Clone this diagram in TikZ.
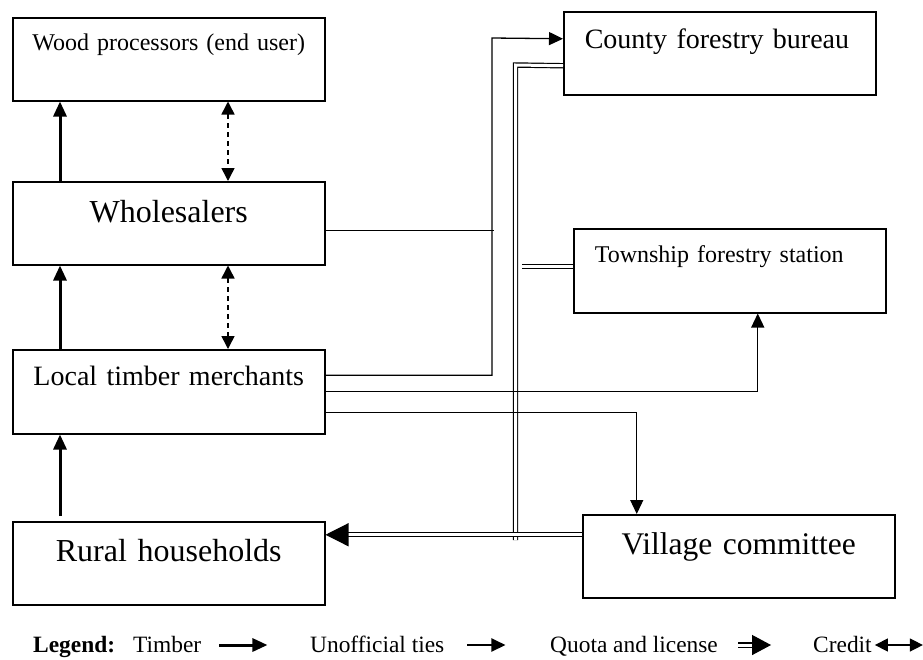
\documentclass[tikz,border=0pt]{standalone}
\usepackage{fontspec}
\setmainfont{Liberation Serif}
\usetikzlibrary{arrows.meta}

\begin{document}
\begin{tikzpicture}[x=1pt,y=-1pt,
  box/.style={draw,line width=1.5pt,inner xsep=0pt,inner ysep=0pt,text width=312pt,align=center,anchor=north west},
  boxl/.style={box,inner xsep=21pt,text width=270pt,align=left},
  tie/.style={line width=1.3pt},
  tip/.style={-{Triangle[length=14pt,width=13pt]}},
  timber/.style={line width=3pt,-{Triangle[length=15pt,width=13pt]}},
  unoff/.style={line width=1.5pt,dash pattern=on 5pt off 4pt,{Triangle[length=13pt,width=13pt]}-{Triangle[length=13pt,width=13pt]}},
  quota/.style={line width=1.2pt,double,double distance=3pt},
  ltext/.style={inner sep=0pt,text height=14pt,text depth=0pt,anchor=base west,font=\fontsize{23.4}{26}\selectfont}]
\useasboundingbox (0,0) rectangle (923,659);
\node[box,font=\fontsize{24}{28}\selectfont,text height=33pt,text depth=50pt] (wood) at (12,17) {Wood processors (end user)};
\node[box,font=\fontsize{32}{36}\selectfont,text height=41pt,text depth=42pt] (whole) at (12,181) {Wholesalers};
\node[box,font=\fontsize{28}{32}\selectfont,text height=36pt,text depth=48pt] (merch) at (12,349) {Local timber merchants};
\node[box,font=\fontsize{32}{36}\selectfont,text height=40pt,text depth=43pt] (rural) at (12,521) {Rural households};
\node[boxl,font=\fontsize{28}{32}\selectfont,text height=37pt,text depth=46pt] (county) at (563,11) {County forestry bureau};
\node[boxl,font=\fontsize{24}{28}\selectfont,text height=34pt,text depth=50pt] (town) at (573,228) {Township forestry station};
\node[box,font=\fontsize{31.5}{36}\selectfont,text height=40pt,text depth=43pt] (village) at (582,514) {Village committee};
\coordinate (jc) at (492,38);
\coordinate (qtop) at (515.5,65);
\coordinate (qbot) at (515.5,540);
\draw[quota] ([yshift=-12.5pt]county.west) -- (qtop) -- (qbot);
\draw[quota] ([yshift=4pt]town.west) -- ++(-51,0);
\draw[quota,-{Triangle[length=23pt,width=23pt]}] ([yshift=21.5pt]village.west) -- ([yshift=28.5pt]rural.east);
\draw[tie] ([yshift=-7.5pt]whole.east) -- ++(168,0);
\draw[tie,tip] ([yshift=16.5pt]merch.east) -| (jc) -- ([yshift=14.5pt]county.west);
\draw[tie,tip] (merch.east) -| ([xshift=28pt]town.south);
\draw[tie,tip] ([yshift=-21pt]merch.east) -| ([xshift=-102pt]village.north);
\draw[timber] ([xshift=48pt]whole.north west) -- ([xshift=48pt]wood.south west);
\draw[timber] ([xshift=48pt]merch.north west) -- ([xshift=48pt]whole.south west);
\draw[timber] ([xshift=48pt,yshift=5pt]rural.north west) -- ([xshift=48pt]merch.south west);
\draw[unoff] ([xshift=216pt]wood.south west) -- ([xshift=216pt]whole.north west);
\draw[unoff] ([xshift=216pt]whole.south west) -- ([xshift=216pt]merch.north west);
\node[ltext,font=\fontsize{23.4}{26}\selectfont\bfseries] (legend) at (33,652) {Legend:};
\node[ltext] (ltimber) at (133,652) {Timber};
\node[ltext] (lties) at (310,652) {Unofficial ties};
\node[ltext] (lquota) at (550,652) {Quota and license};
\node[ltext] (lcredit) at (813,652) {Credit};
\draw[timber] ([xshift=18pt]ltimber.east) -- ++(48,0);
\draw[line width=2pt,tip] ([xshift=23pt]lties.east) -- ++(38,0);
\draw[quota,-{Triangle[length=19pt,width=20pt]}] ([xshift=20pt]lquota.east) -- ++(33,0);
\draw[tie,{Triangle[length=13pt,width=13pt]}-{Triangle[length=13pt,width=13pt]}] ([xshift=3pt]lcredit.east) -- ++(48,0);
\end{tikzpicture}
\end{document}
